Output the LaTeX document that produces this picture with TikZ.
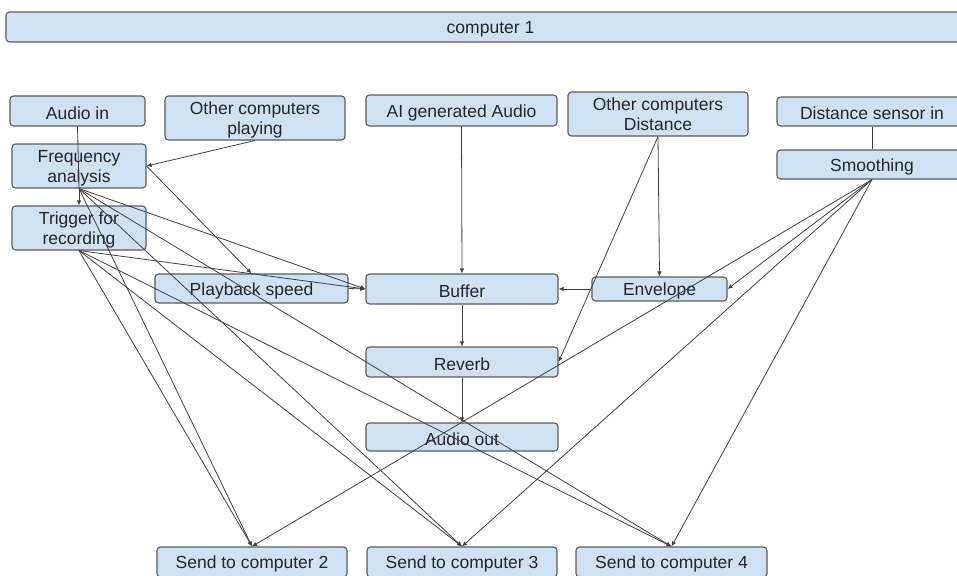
\documentclass[tikz,border=0pt]{standalone}
\usepackage{fontspec}
\setmainfont{Liberation Sans}
\usetikzlibrary{arrows.meta}
\definecolor{boxfill}{HTML}{CFE2F3}
\definecolor{boxline}{HTML}{5B5B5B}
\definecolor{linkcol}{HTML}{404040}
\definecolor{textcol}{HTML}{262626}
% fixed line boxes so every label sits on the same optical centre
\newcommand\lnstrut{\vrule width 0pt height 16.8pt depth 0.8pt\relax}
\newcommand\topstrut{\vrule width 0pt height 16.8pt depth 0pt\relax}
\newcommand\botstrut{\vrule width 0pt height 0pt depth 3.7pt\relax}
\begin{document}
\begin{tikzpicture}[x=1pt,y=-1pt,
  box/.style={draw=boxline, fill=boxfill, rounded corners=3.5pt, line width=1.1pt,
    inner sep=0pt, align=center, text=textcol, font=\fontsize{17.5}{20}\selectfont,
    execute at begin node=\lnstrut, execute at end node=\lnstrut},
  link/.style={draw=linkcol, line width=0.8pt, -{Latex[length=5pt,width=4.5pt]}},
  plain/.style={draw=linkcol, line width=0.8pt}]
\useasboundingbox (0,0) rectangle (957,575);

% header
\node[box, minimum width=969pt, minimum height=30pt] (comp1) at (490.5,27) {computer 1};

% inputs
\node[box, minimum width=135pt, minimum height=30pt] (audioin) at (77.5,111) {Audio in};
\node[box, minimum width=180pt, minimum height=44pt] (ocplay) at (255,118) {\topstrut Other computers\\playing\botstrut};
\node[box, minimum width=191pt, minimum height=31pt] (aigen) at (461.5,110.5) {AI generated Audio};
\node[box, minimum width=180pt, minimum height=44pt] (ocdist) at (658,114) {\topstrut Other computers\\Distance\botstrut};
\node[box, minimum width=190pt, minimum height=29pt] (distin) at (872,111.5) {Distance sensor in};
\node[box, minimum width=190pt, minimum height=29pt] (smooth) at (872,164.5) {Smoothing};

% analysis column
\node[box, minimum width=134pt, minimum height=44pt] (freq) at (79,166) {\topstrut Frequency\\analysis\botstrut};
\node[box, minimum width=134pt, minimum height=44pt] (trig) at (79,228) {\topstrut Trigger for\\recording\botstrut};

% audio chain
\node[box, minimum width=193pt, minimum height=29pt] (play) at (251.5,288.5) {Playback speed};
\node[box, minimum width=192pt, minimum height=30pt] (buffer) at (462,289) {Buffer};
\node[box, minimum width=135pt, minimum height=24pt] (env) at (659.5,289) {Envelope};
\node[box, minimum width=192pt, minimum height=30pt] (reverb) at (462,362) {Reverb};
\node[box, minimum width=192pt, minimum height=28pt] (audioout) at (462,437) {Audio out};

% outputs
\node[box, minimum width=190pt, minimum height=30pt] (send2) at (252,562) {Send to computer 2};
\node[box, minimum width=190pt, minimum height=30pt] (send3) at (462,562) {Send to computer 3};
\node[box, minimum width=191pt, minimum height=30pt] (send4) at (671.5,562) {Send to computer 4};

% connectors
\draw[plain] (audioin.south) -- (freq.south);
\draw[link] (freq.south) -- (trig.north);
\draw[link] (ocplay.south) -- (freq.east);
\draw[link] (freq.east) -- (play.north);
\draw[link] (freq.south) -- (buffer.west);
\draw[link] (freq.south) -- (send2.north);
\draw[link] (freq.south) -- (send3.north);
\draw[link] (freq.south) -- (send4.north);
\draw[link] (trig.south) -- (buffer.west);
\draw[link] (trig.south) -- (send2.north);
\draw[link] (trig.south) -- (send3.north);
\draw[link] (trig.south) -- (send4.north);
\draw[link] (play.east) -- (buffer.west);
\draw[link] (aigen.south) -- (buffer.north);
\draw[link] (ocdist.south) -- (env.north);
\draw[link] (ocdist.south) -- (reverb.east);
\draw[plain] (distin.south) -- (smooth.north);
\draw[link] (smooth.south) -- (env.east);
\draw[link] (smooth.south) -- (send2.north);
\draw[link] (smooth.south) -- (send3.north);
\draw[link] (smooth.south) -- (send4.north);
\draw[link] (env.west) -- (buffer.east);
\draw[link] (buffer.south) -- (reverb.north);
\draw[link] (reverb.south) -- (audioout.north);
\end{tikzpicture}
\end{document}
